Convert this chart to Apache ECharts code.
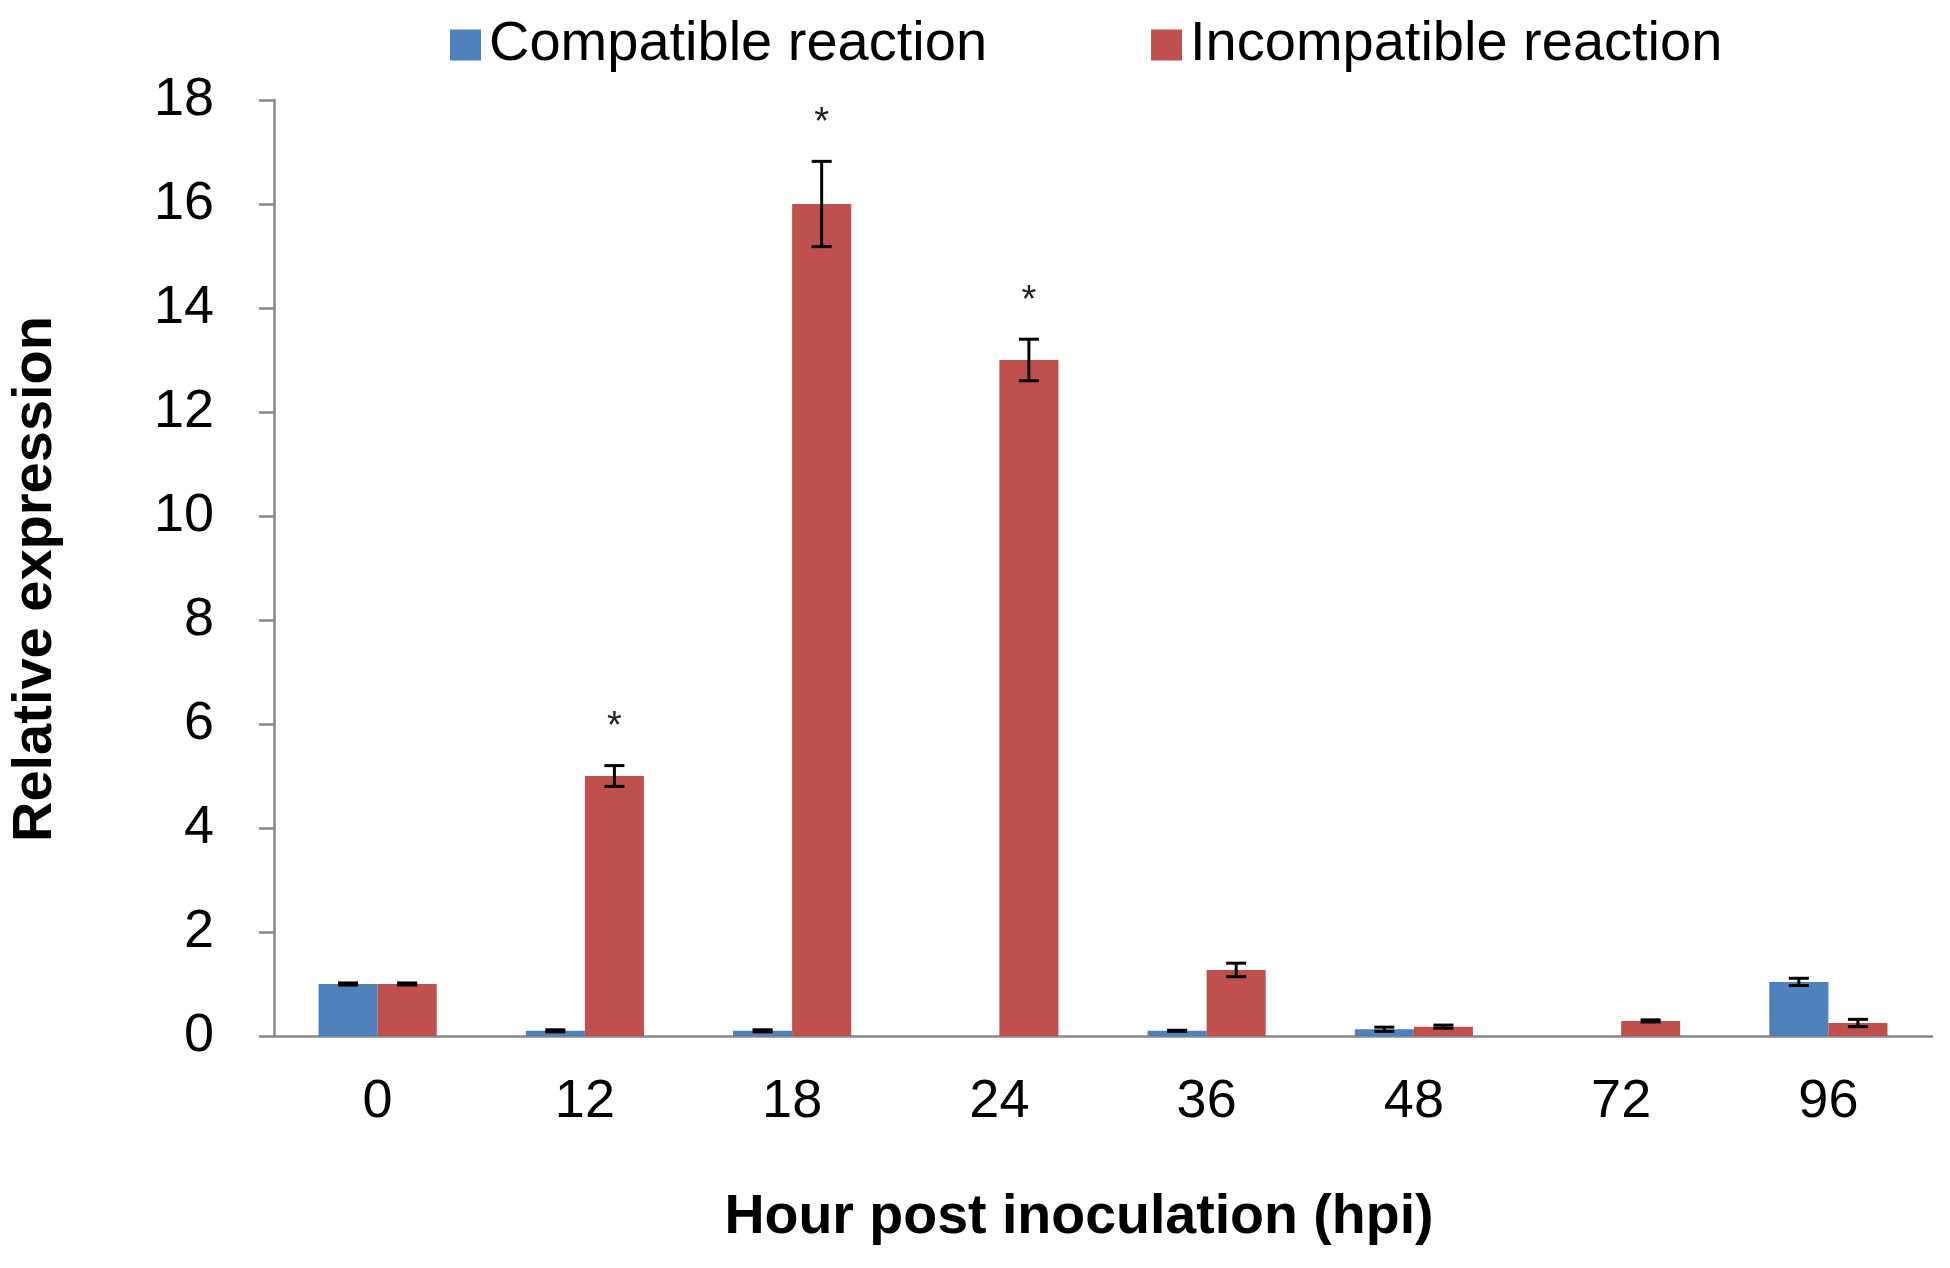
<!DOCTYPE html>
<html>
<head>
<meta charset="utf-8">
<script src="https://cdn.jsdelivr.net/npm/echarts@6/dist/echarts.min.js"></script>
<style>
  html, body { margin: 0; padding: 0; background: #fff; }
  #chart { width: 1950px; height: 1268px; }
</style>
</head>
<body>
<div id="chart"></div>
<script>
// data
const hours = ['0', '12', '18', '24', '36', '48', '72', '96'];
const compatible = [1.0, 0.1, 0.1, 0, 0.1, 0.13, 0, 1.04];
const compatibleErr = [0.02, 0.02, 0.02, null, 0.01, 0.04, null, 0.07];
const incompatible = [1.0, 5.0, 16.0, 13.0, 1.27, 0.18, 0.29, 0.25];
const incompatibleErr = [0.02, 0.2, 0.82, 0.4, 0.13, 0.03, 0.02, 0.07];
const sigMarks = ['', '*', '*', '*', '', '', '', ''];
const yTicks = [0, 2, 4, 6, 8, 10, 12, 14, 16, 18];

const FONT = '"Liberation Sans", Arial, sans-serif';
const BAR_FRAC = 0.285; // bar width as part of a category

const chart = echarts.init(document.getElementById('chart'));

// error bars (plus the significance star) drawn through the axes
function errSeries(name, vals, errs, side, marks) {
  const data = vals.map((v, i) => [i, v, errs[i], marks ? marks[i] : '']);
  return {
    name: name + ' err',
    type: 'custom',
    z: 5,
    data: data,
    renderItem: function (params, api) {
      const err = api.value(2);
      if (err === null || isNaN(err)) return;
      const idx = api.value(0);
      const v = api.value(1);
      const bw = api.size([1, 0])[0] * BAR_FRAC;
      const cx = api.coord([idx, 0])[0] + side * bw / 2;
      const top = api.coord([idx, v + err])[1];
      const bot = api.coord([idx, v - err])[1];
      const cap = 10;
      const st = { stroke: '#000', lineWidth: 3 };
      const kids = [
        { type: 'line', shape: { x1: cx, y1: top, x2: cx, y2: bot }, style: st },
        { type: 'line', shape: { x1: cx - cap, y1: top, x2: cx + cap, y2: top }, style: st },
        { type: 'line', shape: { x1: cx - cap, y1: bot, x2: cx + cap, y2: bot }, style: st }
      ];
      const mark = data[params.dataIndex][3];
      if (mark) {
        kids.push({
          type: 'text',
          style: {
            text: mark, x: cx, y: top - 38,
            align: 'center', verticalAlign: 'middle',
            font: '38px ' + FONT, fill: '#222'
          }
        });
      }
      return { type: 'group', children: kids };
    }
  };
}

const option = {
  animation: false,
  backgroundColor: '#fff',
  textStyle: { fontFamily: FONT },
  legend: {
    data: ['Compatible reaction', 'Incompatible reaction'],
    left: 445,
    top: 12,
    icon: 'rect',
    itemWidth: 31,
    itemHeight: 31,
    itemGap: 164,
    textStyle: { fontSize: 56, color: '#000', padding: [0, 0, 0, 3] }
  },
  grid: { left: 274, right: 18, top: 100, bottom: 232, containLabel: false },
  // axis titles
  graphic: [
    {
      type: 'text',
      x: 36, y: 579,
      rotation: Math.PI / 2,
      style: {
        text: 'Relative expression', font: 'bold 56px ' + FONT, fill: '#000',
        align: 'center', verticalAlign: 'middle'
      }
    },
    {
      type: 'text',
      x: 1079, y: 1218,
      style: {
        text: 'Hour post inoculation (hpi)', font: 'bold 55.5px ' + FONT, fill: '#000',
        align: 'center', verticalAlign: 'middle'
      }
    }
  ],
  xAxis: {
    type: 'category',
    data: hours,
    axisLine: { lineStyle: { color: '#888', width: 2.5 } },
    axisTick: { show: false },
    axisLabel: { fontSize: 54, color: '#000', margin: 39 }
  },
  yAxis: {
    type: 'value',
    min: yTicks[0],
    max: yTicks[yTicks.length - 1],
    interval: yTicks[1] - yTicks[0],
    axisLine: { show: true, lineStyle: { color: '#888', width: 2.5 } },
    axisTick: { show: true, length: 15, lineStyle: { color: '#888', width: 2.5 } },
    axisLabel: { fontSize: 54, color: '#000', margin: 60 },
    splitLine: { show: false }
  },
  series: [
    {
      name: 'Compatible reaction',
      type: 'bar',
      data: compatible,
      barWidth: (BAR_FRAC * 100) + '%',
      barGap: '0%',
      itemStyle: { color: '#4F81BD' }
    },
    {
      name: 'Incompatible reaction',
      type: 'bar',
      data: incompatible,
      barWidth: (BAR_FRAC * 100) + '%',
      barGap: '0%',
      itemStyle: { color: '#C0504D' }
    },
    errSeries('Compatible reaction', compatible, compatibleErr, -1, null),
    errSeries('Incompatible reaction', incompatible, incompatibleErr, 1, sigMarks)
  ]
};

chart.setOption(option);
</script>
</body>
</html>
